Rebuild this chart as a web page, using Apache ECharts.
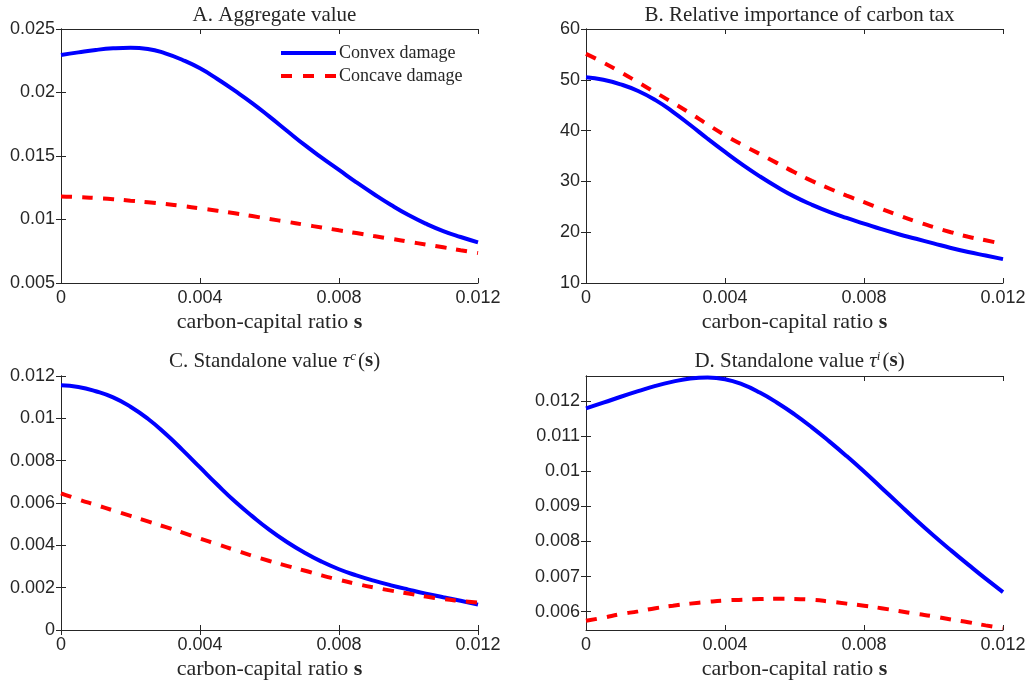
<!DOCTYPE html>
<html>
<head>
<meta charset="utf-8">
<script src="https://cdn.jsdelivr.net/npm/echarts@6/dist/echarts.min.js"></script>
<style>
  html, body { margin: 0; padding: 0; background: #fff; }
  #chart { width: 1030px; height: 686px; }
</style>
</head>
<body>
<div id="chart"></div>
<script>
// carbon-capital ratio s, sampled every 0.0005
const sVals = [0, 0.0005, 0.001, 0.0015, 0.002, 0.0025, 0.003, 0.0035, 0.004, 0.0045, 0.005, 0.0055, 0.006,
               0.0065, 0.007, 0.0075, 0.008, 0.0085, 0.009, 0.0095, 0.010, 0.0105, 0.011, 0.0115, 0.012];

// A. Aggregate value
const aggConvex  = [0.02295, 0.02316, 0.02335, 0.02348, 0.02353, 0.02343, 0.02308, 0.02256, 0.0219, 0.02106, 0.02014, 0.01917, 0.0181,
                    0.01699, 0.01589, 0.01487, 0.0139, 0.01293, 0.01201, 0.01114, 0.01035, 0.00967, 0.00909, 0.00862, 0.0082];
const aggConcave = [0.01182, 0.01177, 0.01169, 0.0116, 0.01148, 0.01136, 0.01122, 0.01106, 0.01088, 0.01069, 0.01049, 0.01027, 0.01004,
                    0.00982, 0.00959, 0.00937, 0.00915, 0.00893, 0.0087, 0.00848, 0.00825, 0.00803, 0.00781, 0.00758, 0.00736];

// B. Relative importance of carbon tax
const relConvex  = [50.5, 50.0, 49.1, 47.8, 46.0, 43.7, 41.1, 38.4, 35.8, 33.3, 31.0, 28.9, 27.0,
                    25.4, 24.0, 22.8, 21.7, 20.6, 19.6, 18.7, 17.8, 16.9, 16.1, 15.4, 14.7];
const relConcave = [55.1, 53.4, 51.5, 49.5, 47.5, 45.5, 43.4, 41.2, 39.1, 37.2, 35.4, 33.6, 31.8,
                    30.1, 28.6, 27.2, 25.9, 24.6, 23.3, 22.1, 21.0, 20.0, 19.1, 18.4, 17.7];

// C. Standalone value tau^c(s)
const tauCConvex  = [0.01156, 0.01148, 0.01128, 0.01099, 0.01055, 0.00998, 0.00928, 0.0085, 0.00768, 0.00686, 0.00608, 0.00538, 0.00473,
                     0.00416, 0.00366, 0.00323, 0.00287, 0.00258, 0.00233, 0.00211, 0.00191, 0.00172, 0.00155, 0.00138, 0.0012];
const tauCConcave = [0.00646, 0.00617, 0.00591, 0.00565, 0.00539, 0.00513, 0.00487, 0.0046, 0.00432, 0.00405, 0.00378, 0.00351, 0.00326,
                     0.00303, 0.00281, 0.00258, 0.00237, 0.00218, 0.00201, 0.00186, 0.00172, 0.00158, 0.00146, 0.00137, 0.00129];

// D. Standalone value tau^i(s)
const tauIConvex  = [0.01179, 0.01195, 0.01212, 0.01228, 0.01243, 0.01255, 0.01264, 0.01267, 0.01262, 0.01247, 0.01224, 0.01195, 0.01162,
                     0.01125, 0.01085, 0.01043, 0.00999, 0.00953, 0.00907, 0.00861, 0.00817, 0.00775, 0.00734, 0.00694, 0.00656];
const tauIConcave = [0.00574, 0.00583, 0.00593, 0.00601, 0.0061, 0.00617, 0.00623, 0.00628, 0.00632, 0.00634, 0.00636, 0.00637, 0.00636,
                     0.00634, 0.00629, 0.00623, 0.00617, 0.0061, 0.00602, 0.00594, 0.00587, 0.00578, 0.0057, 0.00561, 0.00553];

const dTicks = [0.006, 0.007, 0.008, 0.009, 0.010, 0.011, 0.012];

const serif = "'Liberation Serif', 'DejaVu Serif', serif";
const sans = "'Liberation Sans', Arial, sans-serif";
const ink = '#262626';

let myChart = echarts.init(document.getElementById('chart'));

let grids = [
    {left: 61, top: 29, width: 417, height: 254},
    {left: 586, top: 29, width: 417, height: 254},
    {left: 61, top: 376, width: 417, height: 254},
    {left: 586, top: 376, width: 417, height: 254}
];

let yRanges = [
    {min: 0.005, max: 0.025, interval: 0.005},
    {min: 10, max: 60, interval: 10},
    {min: 0, max: 0.012, interval: 0.002},
    {min: 0.005479, max: 0.012711, custom: dTicks}
];

function pair(arr){
    return sVals.map((s, i) => [s, arr[i]]);
}

let xAxis = [], yAxis = [];
grids.forEach((g, i) => {
    let baseLine = {show: true, lineStyle: {color: ink, width: 1}};
    let tick = {show: true, inside: true, length: 5, lineStyle: {color: ink}};
    // bottom
    xAxis.push({
        type: 'value', gridIndex: i, position: 'bottom', min: 0, max: 0.012, interval: 0.004,
        axisLine: baseLine, axisTick: tick, splitLine: {show: false},
        axisLabel: {fontFamily: sans, fontSize: 18, color: ink, margin: 6,
            formatter: v => v === 0 ? '0' : v.toFixed(3)},
        name: '{n|carbon-capital ratio }{b|s}', nameLocation: 'middle', nameGap: 28,
        nameTextStyle: {rich: {
            n: {fontFamily: serif, fontSize: 22, color: ink},
            b: {fontFamily: serif, fontSize: 22, fontWeight: 'bold', color: ink}
        }}
    });
    // top (box + ticks)
    xAxis.push({
        type: 'value', gridIndex: i, position: 'top', min: 0, max: 0.012, interval: 0.004,
        axisLine: baseLine, axisTick: tick, axisLabel: {show: false}, splitLine: {show: false}
    });
    let r = yRanges[i];
    let yl = {
        type: 'value', gridIndex: i, position: 'left', min: r.min, max: r.max,
        axisLine: baseLine, splitLine: {show: false},
        axisTick: Object.assign({}, tick),
        axisLabel: {fontFamily: sans, fontSize: 18, color: ink, margin: 6}
    };
    let yr = {
        type: 'value', gridIndex: i, position: 'right', min: r.min, max: r.max,
        axisLine: baseLine, splitLine: {show: false},
        axisTick: Object.assign({}, tick), axisLabel: {show: false}
    };
    if (r.custom) {
        yl.axisTick.customValues = r.custom;
        yl.axisLabel.customValues = r.custom;
        yl.axisLabel.formatter = v => String(+v.toFixed(3));
        yr.axisTick.customValues = r.custom;
        yr.axisLabel.customValues = r.custom;
    } else {
        yl.interval = r.interval;
        yr.interval = r.interval;
    }
    yAxis.push(yl, yr);
});

let panels = [
    [aggConvex, aggConcave],
    [relConvex, relConcave],
    [tauCConvex, tauCConcave],
    [tauIConvex, tauIConcave]
];

let series = [];
panels.forEach((p, i) => {
    series.push({
        name: 'Convex damage', type: 'line', xAxisIndex: i * 2, yAxisIndex: i * 2,
        data: pair(p[0]), smooth: true, symbol: 'none',
        lineStyle: {color: '#0000ff', width: 4}, itemStyle: {color: '#0000ff'}
    });
    series.push({
        name: 'Concave damage', type: 'line', xAxisIndex: i * 2, yAxisIndex: i * 2,
        data: pair(p[1]), smooth: true, symbol: 'none',
        lineStyle: {color: '#ff0000', width: 4, type: [11, 10]}, itemStyle: {color: '#ff0000'}
    });
});

let titleRich = {
    n: {fontFamily: serif, fontSize: 21, fontWeight: 'normal', color: ink},
    t: {fontFamily: serif, fontSize: 21, fontWeight: 'normal', fontStyle: 'italic', color: ink},
    sup: {fontFamily: serif, fontSize: 13, fontWeight: 'normal', fontStyle: 'italic', color: ink, verticalAlign: 'top', padding: [0, 2, 9, 0]},
    b: {fontFamily: serif, fontSize: 21, fontWeight: 'bold', color: ink}
};

let titles = [
    {text: '{n|A. Aggregate value}', left: 269.5, top: 0},
    {text: '{n|B. Relative importance of carbon tax}', left: 794.5, top: 0},
    {text: '{n|C. Standalone value }{t|τ}{sup|c}{n|(}{b|s}{n|)}', left: 269.5, top: 345},
    {text: '{n|D. Standalone value }{t|τ}{sup|i}{n|(}{b|s}{n|)}', left: 794.5, top: 345}
].map(t => Object.assign(t, {textAlign: 'center',
    textStyle: {fontWeight: 'normal', fontFamily: serif, fontSize: 21, rich: titleRich}}));

myChart.setOption({
    animation: false,
    title: titles,
    legend: {
        data: [
            {name: 'Convex damage', icon: 'path://M0,0H55V4H0Z'},
            {name: 'Concave damage', icon: 'path://M0,0H11V4H0Z M22,0H33V4H22Z M44,0H55V4H44Z'}
        ],
        orient: 'vertical', left: 281, top: 44, padding: 0,
        itemWidth: 55, itemHeight: 4, itemGap: 5,
        textStyle: {fontFamily: serif, fontSize: 18, color: ink, padding: [0, 0, 0, -2]}
    },
    grid: grids,
    xAxis: xAxis,
    yAxis: yAxis,
    series: series
});
</script>
</body>
</html>
